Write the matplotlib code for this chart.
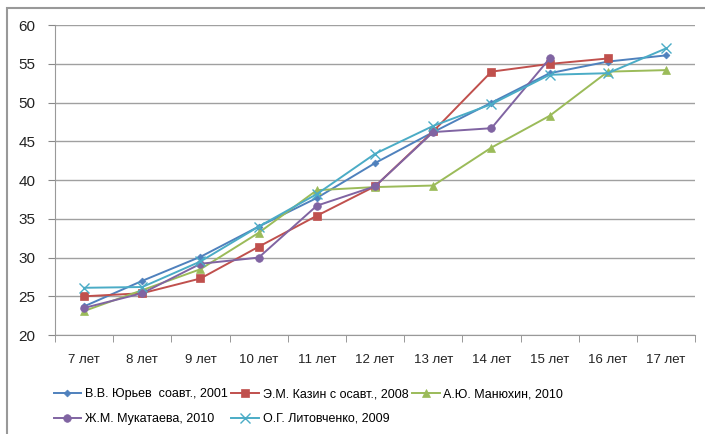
import matplotlib
matplotlib.use('Agg')
import matplotlib.pyplot as plt
from matplotlib.patches import Rectangle

plt.rcParams['font.family'] = ['Liberation Sans', 'DejaVu Sans']

# Данные
ages = ['7 лет', '8 лет', '9 лет', '10 лет', '11 лет', '12 лет',
        '13 лет', '14 лет', '15 лет', '16 лет', '17 лет']
yuriev = [23.7, 27.0, 30.1, 34.0, 37.7, 42.2, 46.2, 50.0, 53.8, 55.3, 56.1]
kazin = [25.0, 25.4, 27.3, 31.4, 35.4, 39.2, 46.3, 54.0, 55.0, 55.7, None]
manyukhin = [23.1, 25.8, 28.5, 33.2, 38.7, 39.1, 39.3, 44.2, 48.3, 54.0, 54.2]
mukataeva = [23.5, 25.4, 29.2, 30.0, 36.7, 39.2, 46.2, 46.7, 55.7, None, None]
litovchenko = [26.1, 26.2, 29.5, 34.0, 38.2, 43.4, 47.0, 49.8, 53.6, 53.8, 57.0]

labels = ['В.В. Юрьев  соавт., 2001', 'Э.М. Казин с осавт., 2008', 'А.Ю. Манюхин, 2010',
          'Ж.М. Мукатаева, 2010', 'О.Г. Литовченко, 2009']

fig = plt.figure(figsize=(7.05, 4.34), dpi=100)
ax = fig.add_axes([0.078, 0.228, 0.908, 0.714])

x = list(range(len(ages)))


def clean(vals):
    xs = [i for i, v in zip(x, vals) if v is not None]
    ys = [v for v in vals if v is not None]
    return xs, ys


series = [
    (yuriev, '#4F81BD', 'D', 3.5),
    (kazin, '#C0504D', 's', 5.5),
    (manyukhin, '#9BBB59', '^', 5.5),
    (mukataeva, '#8064A2', 'o', 5.5),
    (litovchenko, '#4BACC6', 'x', 7),
]

handles = []
for (vals, color, marker, ms), lab in zip(series, labels):
    xs, ys = clean(vals)
    h, = ax.plot(xs, ys, color=color, marker=marker, markersize=ms, linewidth=1.4,
                 markeredgewidth=1.0 if marker == 'x' else 0.5, label=lab)
    handles.append(h)

ax.set_xlim(-0.5, len(ages) - 0.5)
ax.set_ylim(20, 60)
ax.set_yticks(range(20, 61, 5))
ax.set_xticks(x)
ax.set_xticklabels(ages, fontsize=9.5, color='#222222')
ax.set_xticks([i - 0.5 for i in range(len(ages) + 1)], minor=True)
ax.tick_params(axis='x', which='major', length=0, pad=14)
ax.tick_params(axis='x', which='minor', length=5, color='#888888', direction='out')
ax.tick_params(axis='y', length=5, color='#888888', labelsize=11, labelcolor='#222222', pad=9)

ax.grid(axis='y', color='#a0a0a0', linewidth=1)
ax.set_axisbelow(True)
for s in ['top', 'right']:
    ax.spines[s].set_visible(False)
ax.spines['left'].set_color('#999999')
ax.spines['bottom'].set_color('#999999')

# легенда в две строки (порядок как в оригинале)
order = [0, 3, 1, 4, 2]
leg = fig.legend([handles[i] for i in order], [labels[i] for i in order],
                 loc='lower left', bbox_to_anchor=(0.06, -0.005), ncol=3, frameon=False,
                 fontsize=9, handlelength=2.2, columnspacing=0.3, handletextpad=0.3,
                 labelspacing=1.0)

# рамка диаграммы
fig.patches.append(Rectangle((0.01, -0.05), 1.2, 1.032, transform=fig.transFigure,
                             fill=False, edgecolor='#999999', linewidth=1.5))

fig.savefig('out.png', dpi=100)
